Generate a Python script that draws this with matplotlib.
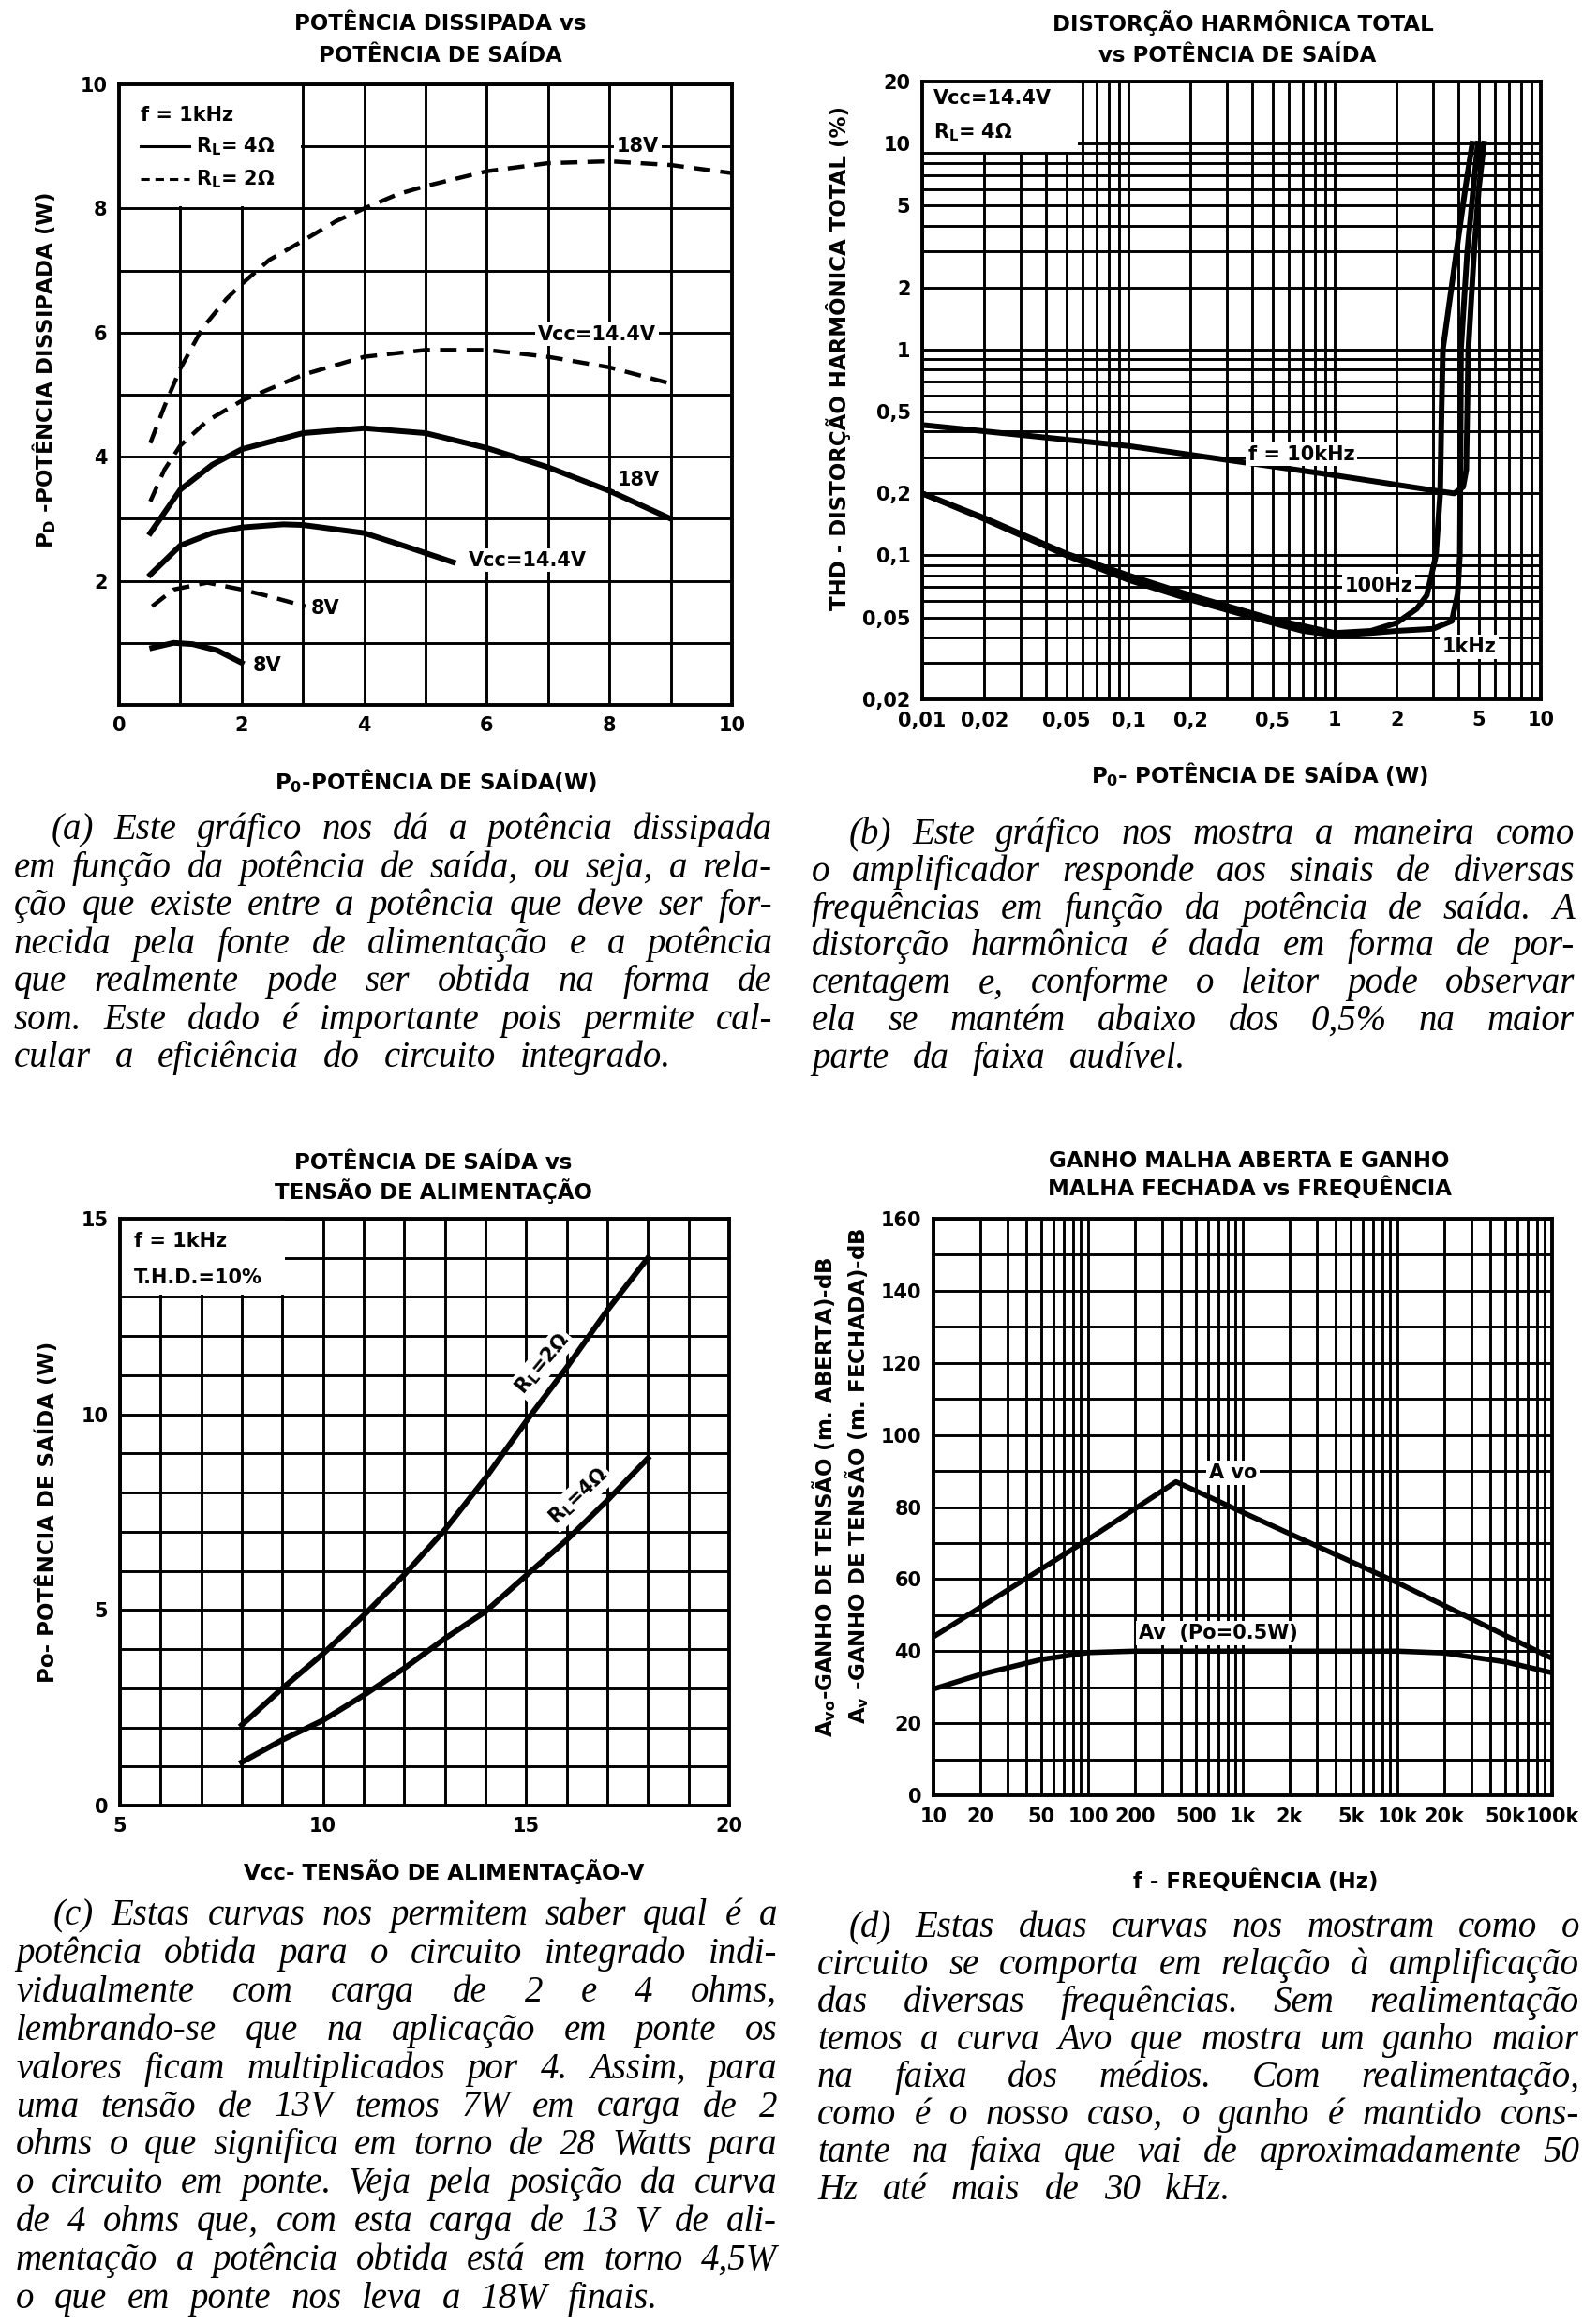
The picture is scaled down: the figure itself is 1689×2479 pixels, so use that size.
import matplotlib
matplotlib.use('Agg')
import matplotlib.pyplot as plt
from matplotlib.ticker import LogLocator, NullFormatter, FixedLocator
from matplotlib.patches import Rectangle

plt.rcParams['font.family'] = ['DejaVu Sans']
plt.rcParams['font.weight'] = 'bold'
plt.rcParams['mathtext.default'] = 'regular'

W, H = 1689, 2479

# (a) potência dissipada x potência de saída
a_x18_2 = [0.51, 0.74, 1.0, 1.36, 1.75, 2.0, 2.45, 3.0, 3.55, 4.0, 4.55, 5.0, 6.0, 7.0, 8.0, 9.0, 10.0]
a_y18_2 = [4.22, 4.81, 5.42, 6.07, 6.54, 6.78, 7.17, 7.48, 7.8, 8.0, 8.23, 8.36, 8.6, 8.73, 8.76, 8.7, 8.57]
a_x14_2 = [0.51, 0.74, 1.0, 1.44, 2.0, 3.0, 4.0, 5.0, 6.0, 7.0, 8.0, 9.07]
a_y14_2 = [3.28, 3.79, 4.18, 4.58, 4.9, 5.32, 5.61, 5.72, 5.72, 5.61, 5.44, 5.16]
a_x18_4 = [0.51, 1.0, 1.52, 2.0, 3.0, 4.0, 5.0, 6.0, 7.0, 8.0, 9.0]
a_y18_4 = [2.77, 3.47, 3.87, 4.12, 4.38, 4.46, 4.38, 4.14, 3.83, 3.45, 3.0]
a_x14_4 = [0.51, 1.0, 1.52, 2.0, 2.68, 3.0, 4.0, 4.63, 5.45]
a_y14_4 = [2.1, 2.57, 2.77, 2.86, 2.91, 2.9, 2.77, 2.57, 2.3]
a_x8_2 = [0.54, 0.89, 1.44, 2.0, 2.45, 3.04]
a_y8_2 = [1.59, 1.86, 1.97, 1.86, 1.75, 1.59]
a_x8_4 = [0.54, 0.89, 1.2, 1.6, 2.0]
a_y8_4 = [0.92, 1.0, 0.98, 0.88, 0.68]

# (b) THD x potência de saída
b_p10k = [0.01, 0.1, 1.0, 3.2, 3.8, 4.2, 4.35, 4.45, 4.75, 5.0, 5.3]
b_t10k = [0.43, 0.34, 0.245, 0.205, 0.2, 0.215, 0.26, 1.0, 3.0, 6.0, 10.0]
b_p1k = [0.01, 0.02, 0.05, 0.1, 0.2, 0.5, 0.7, 1.0, 1.5, 2.0, 3.0, 3.7, 3.95, 4.05, 4.08, 4.1, 4.4, 4.7, 4.95]
b_t1k = [0.2, 0.15, 0.1, 0.076, 0.061, 0.047, 0.043, 0.041, 0.042, 0.043, 0.044, 0.048, 0.065, 0.1, 0.3, 1.0, 3.0, 6.0, 10.0]
b_p100 = [0.01, 0.02, 0.05, 0.1, 0.2, 0.5, 1.0, 1.5, 2.0, 2.5, 2.8, 3.1, 3.25, 3.3, 3.35, 3.9, 4.3, 4.65]
b_t100 = [0.2, 0.152, 0.102, 0.08, 0.064, 0.049, 0.042, 0.043, 0.047, 0.055, 0.064, 0.1, 0.2, 0.5, 1.0, 3.0, 6.0, 10.0]
b_xt = [0.01, 0.02, 0.05, 0.1, 0.2, 0.5, 1, 2, 5, 10]
b_xtl = ['0,01', '0,02', '0,05', '0,1', '0,2', '0,5', '1', '2', '5', '10']
b_yt = [0.02, 0.05, 0.1, 0.2, 0.5, 1, 2, 5, 10, 20]
b_ytl = ['0,02', '0,05', '0,1', '0,2', '0,5', '1', '2', '5', '10', '20']

# (c) potência de saída x tensão de alimentação
c_vcc = [8, 9, 10, 11, 12, 13, 14, 15, 16, 17, 18]
c_p2 = [2.06, 3.0, 3.88, 4.86, 5.9, 7.05, 8.37, 9.82, 11.2, 12.66, 14.0]
c_p4 = [1.11, 1.68, 2.18, 2.82, 3.51, 4.27, 4.96, 5.88, 6.79, 7.8, 8.88]

# (d) ganho x frequência
d_f_avo = [10, 100, 370, 1000, 10000, 100000]
d_avo = [44, 71, 87, 78.5, 59, 38]
d_f_av = [10, 20, 50, 100, 200, 1000, 10000, 20000, 50000, 100000]
d_av = [29.5, 33.5, 37.7, 39.6, 40, 40, 40, 39.5, 37, 34]
d_xt = [10, 20, 50, 100, 200, 500, 1000, 2000, 5000, 10000, 20000, 50000, 100000]
d_xtl = ['10', '20', '50', '100', '200', '500', '1k', '2k', '5k', '10k', '20k', '50k', '100k']

cap_a = ["(a) Este gráfico nos dá a potência dissipada",
         "em função da potência de saída, ou seja, a rela-",
         "ção que existe entre a potência que deve ser for-",
         "necida pela fonte de alimentação e a potência",
         "que realmente pode ser obtida na forma de",
         "som. Este dado é importante pois permite cal-",
         "cular a eficiência do circuito integrado."]
cap_b = ["(b) Este gráfico nos mostra a maneira como",
         "o amplificador responde aos sinais de diversas",
         "frequências em função da potência de saída. A",
         "distorção harmônica é dada em forma de por-",
         "centagem e, conforme o leitor pode observar",
         "ela se mantém abaixo dos 0,5% na maior",
         "parte da faixa audível."]
cap_c = ["(c) Estas curvas nos permitem saber qual é a",
         "potência obtida para o circuito integrado indi-",
         "vidualmente com carga de 2 e 4 ohms,",
         "lembrando-se que na aplicação em ponte os",
         "valores ficam multiplicados por 4. Assim, para",
         "uma tensão de 13V temos 7W em carga de 2",
         "ohms o que significa em torno de 28 Watts para",
         "o circuito em ponte. Veja pela posição da curva",
         "de 4 ohms que, com esta carga de 13 V de ali-",
         "mentação a potência obtida está em torno 4,5W",
         "o que em ponte nos leva a 18W finais."]
cap_d = ["(d) Estas duas curvas nos mostram como o",
         "circuito se comporta em relação à amplificação",
         "das diversas frequências. Sem realimentação",
         "temos a curva Avo que mostra um ganho maior",
         "na faixa dos médios. Com realimentação,",
         "como é o nosso caso, o ganho é mantido cons-",
         "tante na faixa que vai de aproximadamente 50",
         "Hz até mais de 30 kHz."]

FS = 15      # números e rótulos internos
FT = 16.5    # títulos e nomes dos eixos
fig = plt.figure(figsize=(W / 100, H / 100), dpi=100)
fig.patch.set_facecolor('white')


def box(l, t, r, b):
    return [l / W, 1 - b / H, (r - l) / W, (b - t) / H]


def ftext(x, y, s, **kw):
    kw.setdefault('fontsize', FT)
    kw.setdefault('ha', 'center')
    kw.setdefault('va', 'center')
    return fig.text(x / W, 1 - y / H, s, **kw)


def styled(ax):
    ax.set_axisbelow(True)
    ax.grid(True, which='both', color='black', lw=2.1)
    ax.tick_params(which='both', length=0, labelsize=FS, pad=9)
    for s in ax.spines.values():
        s.set_linewidth(2.8)


wb = dict(facecolor='white', edgecolor='none', pad=2)

# ---------------- (a)
ax = fig.add_axes(box(127, 90, 781, 752))
ax.set_xlim(0, 10)
ax.set_ylim(0, 10)
ax.set_xticks(range(0, 11, 2))
ax.set_xticks(range(1, 10, 2), minor=True)
ax.set_yticks(range(0, 11, 2), ['', '2', '4', '6', '8', '10'])
ax.set_yticks(range(1, 10, 2), minor=True)
styled(ax)
ax.add_patch(Rectangle((0, 8.04), 2.96, 1.96, facecolor='white', edgecolor='none', zorder=1))
ax.text(0.35, 9.5, 'f = 1kHz', fontsize=FS, va='center', zorder=5)
ax.plot([0.35, 1.15], [9.0, 9.0], color='black', lw=2.2, zorder=5)
ax.plot([0.35, 1.15], [8.47, 8.47], color='black', lw=2.2, ls=(0, (3, 2)), zorder=5)
ax.text(1.25, 9.0, '$\\mathregular{R_L}$= 4Ω', fontsize=FS, va='center', zorder=5)
ax.text(1.25, 8.47, '$\\mathregular{R_L}$= 2Ω', fontsize=FS, va='center', zorder=5)
dash = (0, (4, 2.4))
ax.plot(a_x18_2, a_y18_2, color='black', lw=3.2, ls=dash, zorder=3)
ax.plot(a_x14_2, a_y14_2, color='black', lw=3.2, ls=dash, zorder=3)
ax.plot(a_x8_2, a_y8_2, color='black', lw=3.2, ls=dash, zorder=3)
ax.plot(a_x18_4, a_y18_4, color='black', lw=4.3, zorder=3)
ax.plot(a_x14_4, a_y14_4, color='black', lw=4.3, zorder=3)
ax.plot(a_x8_4, a_y8_4, color='black', lw=4.3, zorder=3)
ax.text(8.46, 9.0, '18V', fontsize=FS, ha='center', va='center', bbox=wb, zorder=4)
ax.text(7.8, 5.97, 'Vcc=14.4V', fontsize=FS, ha='center', va='center', bbox=wb, zorder=4)
ax.text(8.48, 3.63, '18V', fontsize=FS, ha='center', va='center', bbox=wb, zorder=4)
ax.text(6.67, 2.33, 'Vcc=14.4V', fontsize=FS, ha='center', va='center', bbox=wb, zorder=4)
ax.text(3.36, 1.55, '8V', fontsize=FS, ha='center', va='center', bbox=wb, zorder=4)
ax.text(2.42, 0.64, '8V', fontsize=FS, ha='center', va='center', bbox=wb, zorder=4)
ftext(470, 25, 'POTÊNCIA DISSIPADA vs')
ftext(470, 60, 'POTÊNCIA DE SAÍDA')
ftext(465, 833, '$\\mathregular{P_0}$-POTÊNCIA DE SAÍDA(W)')
ftext(47, 395, '$\\mathregular{P_D}$ -POTÊNCIA DISSIPADA (W)', rotation=90)

# ---------------- (b)
ax = fig.add_axes(box(984, 87, 1644, 746))
ax.set_xscale('log')
ax.set_yscale('log')
ax.set_xlim(0.01, 10)
ax.set_ylim(0.02, 20)
ax.set_xticks(b_xt, b_xtl)
ax.set_yticks(b_yt, b_ytl)
for axis in (ax.xaxis, ax.yaxis):
    axis.set_minor_locator(LogLocator(base=10, subs=range(1, 10), numticks=50))
    axis.set_minor_formatter(NullFormatter())
styled(ax)
ax.add_patch(Rectangle((0.01, 9.1), 0.047, 10.9, facecolor='white', edgecolor='none', zorder=1))
ax.text(0.0113, 16.5, 'Vcc=14.4V', fontsize=FS, va='center', zorder=5)
ax.text(0.0113, 11.3, '$\\mathregular{R_L}$= 4Ω', fontsize=FS, va='center', zorder=5)
ax.plot(b_p10k, b_t10k, color='black', lw=4.3, zorder=3)
ax.plot(b_p1k, b_t1k, color='black', lw=4.3, zorder=3)
ax.plot(b_p100, b_t100, color='black', lw=4.3, zorder=3)
ax.text(0.69, 0.31, 'f = 10kHz', fontsize=FS, ha='center', va='center', bbox=wb, zorder=4)
ax.text(1.64, 0.071, '100Hz', fontsize=FS, ha='center', va='center', bbox=wb, zorder=4)
ax.text(4.5, 0.036, '1kHz', fontsize=FS, ha='center', va='center', bbox=wb, zorder=4)
ftext(1326, 25, 'DISTORÇÃO HARMÔNICA TOTAL')
ftext(1320, 60, 'vs POTÊNCIA DE SAÍDA')
ftext(1344, 826, '$\\mathregular{P_0}$- POTÊNCIA DE SAÍDA (W)')
ftext(894, 382, 'THD - DISTORÇÃO HARMÔNICA TOTAL (%)', rotation=90)

# ---------------- (c)
ax = fig.add_axes(box(128, 1300, 778, 1926))
ax.set_xlim(5, 20)
ax.set_ylim(0, 15)
ax.set_xticks([5, 10, 15, 20])
ax.set_xticks(range(5, 21), minor=True)
ax.set_yticks([0, 5, 10, 15])
ax.set_yticks(range(0, 16), minor=True)
styled(ax)
ax.add_patch(Rectangle((5, 13.05), 4.05, 1.95, facecolor='white', edgecolor='none', zorder=1))
ax.text(5.35, 14.43, 'f = 1kHz', fontsize=FS, va='center', zorder=5)
ax.text(5.35, 13.5, 'T.H.D.=10%', fontsize=FS, va='center', zorder=5)
ax.plot(c_vcc, c_p2, color='black', lw=4.3, zorder=3)
ax.plot(c_vcc, c_p4, color='black', lw=4.3, zorder=3)
ax.text(15.4, 11.3, '$\\mathregular{R_L}$=2Ω', fontsize=FS, rotation=50,
        ha='center', va='center', rotation_mode='anchor', bbox=wb, zorder=4)
ax.text(16.3, 7.9, '$\\mathregular{R_L}$=4Ω', fontsize=FS, rotation=43,
        ha='center', va='center', rotation_mode='anchor', bbox=wb, zorder=4)
ftext(462, 1241, 'POTÊNCIA DE SAÍDA vs')
ftext(462, 1271, 'TENSÃO DE ALIMENTAÇÃO')
ftext(474, 1997, 'Vcc- TENSÃO DE ALIMENTAÇÃO-V')
ftext(51, 1613, 'Po- POTÊNCIA DE SAÍDA (W)', rotation=90)

# ---------------- (d)
ax = fig.add_axes(box(996, 1300, 1656, 1915))
ax.set_xscale('log')
ax.set_xlim(10, 100000)
ax.set_ylim(0, 160)
ax.set_xticks(d_xt, d_xtl)
ax.xaxis.set_minor_locator(LogLocator(base=10, subs=range(1, 10), numticks=50))
ax.xaxis.set_minor_formatter(NullFormatter())
ax.set_yticks(range(0, 161, 20))
ax.yaxis.set_minor_locator(FixedLocator(range(10, 160, 20)))
styled(ax)
ax.plot(d_f_avo, d_avo, color='black', lw=4.0, zorder=3)
ax.plot(d_f_av, d_av, color='black', lw=4.0, zorder=3)
ax.text(860, 89.5, 'A vo', fontsize=FS, ha='center', va='center', bbox=wb, zorder=4)
ax.text(690, 45, 'Av  (Po=0.5W)', fontsize=FS, ha='center', va='center', bbox=wb, zorder=4)
ftext(1333, 1238, 'GANHO MALHA ABERTA E GANHO')
ftext(1333, 1268, 'MALHA FECHADA vs FREQUÊNCIA')
ftext(1340, 2007, 'f - FREQUÊNCIA (Hz)')
ftext(879, 1597, '$\\mathregular{A_{vo}}$-GANHO DE TENSÃO (m. ABERTA)-dB', rotation=90)
ftext(914, 1574, '$\\mathregular{A_v}$ -GANHO DE TENSÃO (m. FECHADA)-dB', rotation=90)


# ---------------- legendas (texto justificado)
def paragraph(lines, x0, x1, xin, yb, dy, xlast, size=28):
    r = fig.canvas.get_renderer()
    for i, line in enumerate(lines):
        words = line.split()
        start = xin if i == 0 else x0
        end = xlast if i == len(lines) - 1 else x1
        ts = [fig.text(0, 1 - (yb + i * dy) / H, w, fontsize=size,
                       family='Liberation Serif', style='italic',
                       fontweight='normal', va='baseline') for w in words]
        ws = [t.get_window_extent(renderer=r).width for t in ts]
        gap = (end - start - sum(ws)) / max(len(words) - 1, 1)
        x = start
        for t, w in zip(ts, ws):
            t.set_x(x / W)
            x += w + gap


paragraph(cap_a, 15, 824, 55, 895, 40.5, 716)
paragraph(cap_b, 866, 1680, 906, 900, 39.8, 1265)
paragraph(cap_c, 17, 829, 57, 2053, 40.9, 702)
paragraph(cap_d, 872, 1685, 906, 2066, 40.0, 1313)

fig.savefig('out.png', dpi=100)
